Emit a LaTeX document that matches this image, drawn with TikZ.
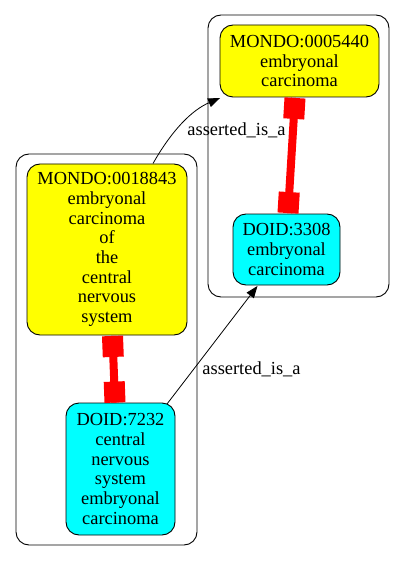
\documentclass[tikz,border=0pt]{standalone}
\usepackage{fontspec}
\setmainfont{Liberation Serif}
\usetikzlibrary{arrows.meta,calc}
\definecolor{gvyellow}{RGB}{255,255,0}
\definecolor{gvcyan}{RGB}{0,255,255}
\definecolor{gvred}{RGB}{255,0,0}
\begin{document}
\begin{tikzpicture}[x=1pt,y=-1pt,
  termbox/.style={draw=black, line width=0.9pt, rounded corners=13pt, align=center, inner sep=0pt,
    font=\fontsize{18.4}{19.7}\selectfont},
  mondo/.style={termbox, fill=gvyellow},
  doid/.style={termbox, fill=gvcyan},
  clusterbox/.style={draw=black, line width=0.9pt, rounded corners=13pt},
  isa/.style={draw=black, line width=0.8pt, -{Triangle[length=12pt,width=9pt]}},
  lbl/.style={font=\fontsize{18.4}{19.7}\selectfont, inner sep=0pt},
  eqline/.style={draw=gvred, line width=8pt},
  eqend/.style={draw=gvred, line width=21pt}]
\useasboundingbox (0,0) rectangle (405,561);
% clusters
\draw[clusterbox] (16,154) rectangle (197,545);
\draw[clusterbox] (208,15) rectangle (389,297);
% nodes
\node[mondo, minimum width=159pt, minimum height=72pt] (m5440) at (299.5,61) {MONDO:0005440\\embryonal\\carcinoma};
\node[doid, minimum width=107pt, minimum height=71pt] (d3308) at (286.5,249.5) {DOID:3308\\embryonal\\carcinoma};
\node[mondo, minimum width=160pt, minimum height=171pt] (m18843) at (107,249.5) {MONDO:0018843\\embryonal\\carcinoma\\of\\the\\central\\nervous\\system};
\node[doid, minimum width=109pt, minimum height=132pt] (d7232) at (120.5,469) {DOID:7232\\central\\nervous\\system\\embryonal\\carcinoma};
% equivalence edges
\coordinate (e1a) at ($(m18843.south)+(5.5,0.5)$);
\coordinate (e1b) at ($(d7232.north)+(-5.5,0)$);
\draw[eqline] (e1a) -- (e1b);
\draw[eqend] (e1a) -- ($(e1a)!21pt!(e1b)$);
\draw[eqend] (e1b) -- ($(e1b)!21pt!(e1a)$);
\coordinate (e2a) at ($(m5440.south)+(-4.5,0.5)$);
\coordinate (e2b) at ($(d3308.north)+(1.5,-0.5)$);
\draw[eqline] (e2a) -- (e2b);
\draw[eqend] (e2a) -- ($(e2a)!21pt!(e2b)$);
\draw[eqend] (e2b) -- ($(e2b)!21pt!(e2a)$);
% is_a edges
\coordinate (s1) at (153,163.5);
\draw[isa] (s1) .. controls (172,130) and (192,110) .. ($(m5440.west)+(0.5,37)$);
\node[lbl] (l1) at (236.5,130) {asserted\_is\_a};
\coordinate (s2) at (167,404);
\draw[isa] (s2) -- ($(d3308.south)+(-29,0.5)$);
\node[lbl] (l2) at (251.5,369) {asserted\_is\_a};
\end{tikzpicture}
\end{document}
